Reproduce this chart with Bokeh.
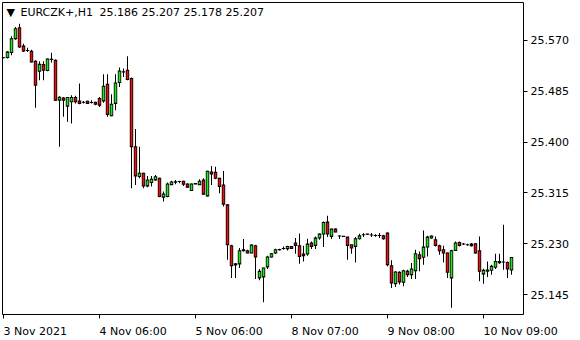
from bokeh.plotting import figure
from bokeh.models import ColumnDataSource, FixedTicker, Range1d, Label, NumeralTickFormatter
from bokeh.embed import file_html
from bokeh.resources import INLINE

symbol = "EURCZK+,H1"
last_ohlc = "25.186 25.207 25.178 25.207"
last_price = 25.207

x_tick_bars = [0, 24, 48, 72, 96, 120]
x_tick_labels = ["3 Nov 2021", "4 Nov 06:00", "5 Nov 06:00", "8 Nov 07:00", "9 Nov 08:00", "10 Nov 09:00"]
y_ticks = [25.145, 25.230, 25.315, 25.400, 25.485, 25.570]

opens = [
    25.5410, 25.5412, 25.5495, 25.5728, 25.5912, 25.5605, 25.5530, 25.5517, 25.5350, 25.5183,
    25.5295, 25.5195, 25.5380, 25.5367, 25.4700, 25.4738, 25.4600, 25.4672, 25.4745, 25.4688,
    25.4667, 25.4683, 25.4662, 25.4667, 25.4728, 25.4688, 25.4967, 25.4438, 25.4645, 25.4995,
    25.5172, 25.5200, 25.5062, 25.3922, 25.3422, 25.3478, 25.3267, 25.3322, 25.3367, 25.3395,
    25.3078, 25.3088, 25.3288, 25.3328, 25.3339, 25.3345, 25.3300, 25.3188, 25.3300, 25.3288,
    25.3367, 25.3100, 25.3500, 25.3495, 25.3395, 25.3283, 25.2950, 25.2267, 25.1945, 25.1962,
    25.2183, 25.2183, 25.2145, 25.2267, 25.1728, 25.1745, 25.1912, 25.2078, 25.2145, 25.2198,
    25.2222, 25.2217, 25.2255, 25.2312, 25.2267, 25.2128, 25.2128, 25.2312, 25.2272, 25.2395,
    25.2462, 25.2662, 25.2422, 25.2545, 25.2428, 25.2425, 25.2412, 25.2283, 25.2255, 25.2383,
    25.2450, 25.2462, 25.2445, 25.2438, 25.2438, 25.2433, 25.2478, 25.1933, 25.1633, 25.1822,
    25.1655, 25.1838, 25.1783, 25.1850, 25.2117, 25.2072, 25.2245, 25.2395, 25.2367, 25.2267,
    25.2200, 25.2145, 25.1728, 25.2188, 25.2322, 25.2295, 25.2283, 25.2295, 25.2300, 25.2183,
    25.1795, 25.1838, 25.1855, 25.1905, 25.1983, 25.1995, 25.1988, 25.1860,
]
highs = [
    25.5420, 25.5522, 25.5767, 25.5922, 25.5978, 25.5645, 25.5578, 25.5545, 25.5367, 25.5350,
    25.5350, 25.5395, 25.5495, 25.5380, 25.4767, 25.4755, 25.4755, 25.4783, 25.4772, 25.4978,
    25.4688, 25.4690, 25.4700, 25.4672, 25.4755, 25.5133, 25.5133, 25.4800, 25.5133, 25.5245,
    25.5228, 25.5433, 25.5078, 25.4217, 25.3922, 25.3488, 25.3433, 25.3433, 25.3450, 25.3405,
    25.3172, 25.3322, 25.3355, 25.3367, 25.3355, 25.3355, 25.3310, 25.3305, 25.3310, 25.3378,
    25.3395, 25.3522, 25.3600, 25.3588, 25.3405, 25.3517, 25.2962, 25.2283, 25.1978, 25.2228,
    25.2378, 25.2200, 25.2288, 25.2283, 25.1878, 25.1897, 25.2100, 25.2145, 25.2217, 25.2217,
    25.2255, 25.2267, 25.2262, 25.2395, 25.2472, 25.2267, 25.2383, 25.2338, 25.2422, 25.2472,
    25.2672, 25.2767, 25.2550, 25.2555, 25.2440, 25.2430, 25.2412, 25.2283, 25.2412, 25.2467,
    25.2478, 25.2467, 25.2478, 25.2460, 25.2478, 25.2450, 25.2488, 25.2022, 25.1838, 25.1838,
    25.1867, 25.1867, 25.1978, 25.2200, 25.2172, 25.2522, 25.2433, 25.2438, 25.2422, 25.2283,
    25.2267, 25.2155, 25.2200, 25.2338, 25.2338, 25.2312, 25.2300, 25.2312, 25.2312, 25.2422,
    25.1883, 25.2005, 25.1950, 25.2133, 25.2133, 25.2617, 25.2005, 25.2070,
]
lows = [
    25.5400, 25.5395, 25.5450, 25.5712, 25.5578, 25.5505, 25.5505, 25.5328, 25.4572, 25.5033,
    25.5033, 25.5183, 25.5328, 25.4690, 25.3922, 25.4422, 25.4338, 25.4312, 25.4645, 25.4633,
    25.4645, 25.4640, 25.4645, 25.4617, 25.4588, 25.4655, 25.4422, 25.4433, 25.4533, 25.4922,
    25.5088, 25.5033, 25.3228, 25.3283, 25.3395, 25.3228, 25.3245, 25.3255, 25.3355, 25.3078,
    25.3005, 25.3078, 25.3283, 25.3295, 25.3312, 25.3267, 25.3235, 25.3185, 25.3295, 25.3283,
    25.3117, 25.3088, 25.3283, 25.3378, 25.3145, 25.2922, 25.2033, 25.1728, 25.1728, 25.1895,
    25.2172, 25.2140, 25.2140, 25.1712, 25.1688, 25.1322, 25.1878, 25.2072, 25.2128, 25.2188,
    25.2200, 25.2188, 25.2215, 25.2133, 25.1967, 25.2005, 25.2100, 25.2212, 25.2212, 25.2367,
    25.2245, 25.2412, 25.2378, 25.2490, 25.2378, 25.2417, 25.2033, 25.2133, 25.1988, 25.2372,
    25.2412, 25.2452, 25.2412, 25.2415, 25.2395, 25.2367, 25.1922, 25.1562, 25.1578, 25.1617,
    25.1588, 25.1745, 25.1712, 25.1712, 25.1838, 25.1950, 25.2088, 25.2383, 25.2255, 25.2117,
    25.1988, 25.1728, 25.1228, 25.2183, 25.2255, 25.2278, 25.2267, 25.2255, 25.2133, 25.1672,
    25.1633, 25.1745, 25.1783, 25.1878, 25.1967, 25.1867, 25.1728, 25.1780,
]
closes = [
    25.5410, 25.5505, 25.5728, 25.5895, 25.5588, 25.5522, 25.5530, 25.5338, 25.4950, 25.5300,
    25.5200, 25.5388, 25.5385, 25.4700, 25.4750, 25.4700, 25.4745, 25.4745, 25.4672, 25.4645,
    25.4667, 25.4645, 25.4662, 25.4633, 25.4617, 25.4933, 25.4462, 25.4633, 25.4988, 25.5188,
    25.5175, 25.5045, 25.3922, 25.3433, 25.3478, 25.3267, 25.3367, 25.3378, 25.3422, 25.3088,
    25.3133, 25.3300, 25.3333, 25.3335, 25.3339, 25.3295, 25.3245, 25.3300, 25.3305, 25.3345,
    25.3128, 25.3512, 25.3467, 25.3395, 25.3255, 25.2962, 25.2283, 25.1933, 25.1967, 25.2183,
    25.2200, 25.2145, 25.2278, 25.2078, 25.1838, 25.1895, 25.2078, 25.2133, 25.2200, 25.2202,
    25.2222, 25.2255, 25.2222, 25.2272, 25.2088, 25.2100, 25.2295, 25.2255, 25.2395, 25.2462,
    25.2655, 25.2462, 25.2545, 25.2495, 25.2428, 25.2422, 25.2272, 25.2228, 25.2383, 25.2433,
    25.2450, 25.2458, 25.2445, 25.2438, 25.2438, 25.2383, 25.1950, 25.1645, 25.1828, 25.1662,
    25.1850, 25.1783, 25.1878, 25.2133, 25.2050, 25.2245, 25.2412, 25.2428, 25.2272, 25.2183,
    25.2145, 25.1822, 25.2183, 25.2312, 25.2272, 25.2295, 25.2283, 25.2267, 25.2145, 25.1838,
    25.1855, 25.1862, 25.1922, 25.2005, 25.2005, 25.1995, 25.1878, 25.2070,
]

UP = "#22e622"
DOWN = "#e01414"
FONT = "DejaVu Sans"
FONT_PX = 11

X0, X1 = -0.25, 130.0
Y0, Y1 = 25.1117, 25.6333
FRAME_W, FRAME_H = 521, 313
PX_PER_BAR = FRAME_W / (X1 - X0)
PX_Y = (Y1 - Y0) / FRAME_H          # price per screen pixel

n = len(opens)
idx = list(range(n))
body_hi = [max(o, c) for o, c in zip(opens, closes)]
body_lo = [min(o, c) for o, c in zip(opens, closes)]
inner_hi = [max(hi - PX_Y * 0.6, lo + PX_Y * 0.6) for hi, lo in zip(body_hi, body_lo)]
inner_lo = [lo + PX_Y * 0.6 for lo in body_lo]
src = ColumnDataSource(dict(
    x=idx, h=highs, l=lows,
    otop=[v + PX_Y / 2 for v in body_hi], obot=[v - PX_Y / 2 for v in body_lo],
    itop=inner_hi, ibot=inner_lo,
    color=[UP if c > o else (DOWN if c < o else "black") for o, c in zip(opens, closes)],
))

p = figure(width=580, height=340, output_backend="svg", toolbar_location=None,
           x_range=Range1d(X0, X1), y_range=Range1d(Y0, Y1),
           y_axis_location="right", x_axis_location="below",
           min_border_left=2, min_border_right=57, min_border_top=2, min_border_bottom=25)
p.background_fill_color = "white"
p.border_fill_color = "white"
p.outline_line_color = "black"
p.outline_line_width = 1
p.grid.visible = False

# wicks, black body frames, coloured body cores
p.vbar(x="x", width=1.0 / PX_PER_BAR, top="h", bottom="l", source=src,
       fill_color="black", line_color=None)
p.vbar(x="x", width=3.4 / PX_PER_BAR, top="otop", bottom="obot", source=src,
       fill_color="black", line_color=None)
p.vbar(x="x", width=1.8 / PX_PER_BAR, top="itop", bottom="ibot", source=src,
       fill_color="color", line_color=None)

def style(ax):
    ax.axis_line_color = None
    ax.major_tick_in = 0
    ax.minor_tick_in = 0
    ax.major_label_text_font = FONT
    ax.major_label_text_font_size = "%dpx" % FONT_PX
    ax.major_label_text_color = "black"

# time axis: tick marks at the bars (minor ticks), labels left-aligned at them
ADV = {d: 1303 for d in "0123456789"}
ADV.update({" ": 651, ":": 690, "N": 1532, "o": 1253, "v": 1212})
def text_px(t):
    return sum(ADV.get(ch, 1250) for ch in t) / 2048.0 * FONT_PX
label_pos = [b + text_px(t) / 2.0 / PX_PER_BAR for b, t in zip(x_tick_bars, x_tick_labels)]

xa = p.xaxis[0]
style(xa)
xa.ticker = FixedTicker(ticks=label_pos, minor_ticks=x_tick_bars)
xa.major_label_overrides = {pos: t for pos, t in zip(label_pos, x_tick_labels)}
xa.major_tick_out = 0
xa.major_tick_line_color = None
xa.minor_tick_out = 4
xa.minor_tick_line_color = "black"
xa.major_label_standoff = 6

ya = p.yaxis[0]
style(ya)
ya.ticker = FixedTicker(ticks=y_ticks)
ya.formatter = NumeralTickFormatter(format="0.000")
ya.major_tick_out = 4
ya.major_tick_line_color = "black"
ya.minor_tick_line_color = None
ya.major_label_standoff = 3

p.add_layout(Label(x=4, y=302.5, x_units="screen", y_units="screen", text="\u25BC",
                   text_font=FONT, text_font_size="11px", text_color="black",
                   text_baseline="middle", text_align="left"))
p.add_layout(Label(x=18, y=302.5, x_units="screen", y_units="screen", text=symbol,
                   text_font=FONT, text_font_size="11px", text_color="black",
                   text_baseline="middle", text_align="left"))
p.add_layout(Label(x=97, y=302.5, x_units="screen", y_units="screen", text=last_ohlc,
                   text_font=FONT, text_font_size="11px", text_color="black",
                   text_baseline="middle", text_align="left"))
p.add_layout(Label(x=523, y=last_price, x_units="screen", y_units="data", text="%.3f" % last_price,
                   text_font=FONT, text_font_size="11px", text_color="white",
                   text_baseline="middle", text_align="left",
                   background_fill_color="black",
                   padding=dict(left=5, right=7, top=1, bottom=1)))

open("out.html", "w").write(file_html(p, INLINE))
